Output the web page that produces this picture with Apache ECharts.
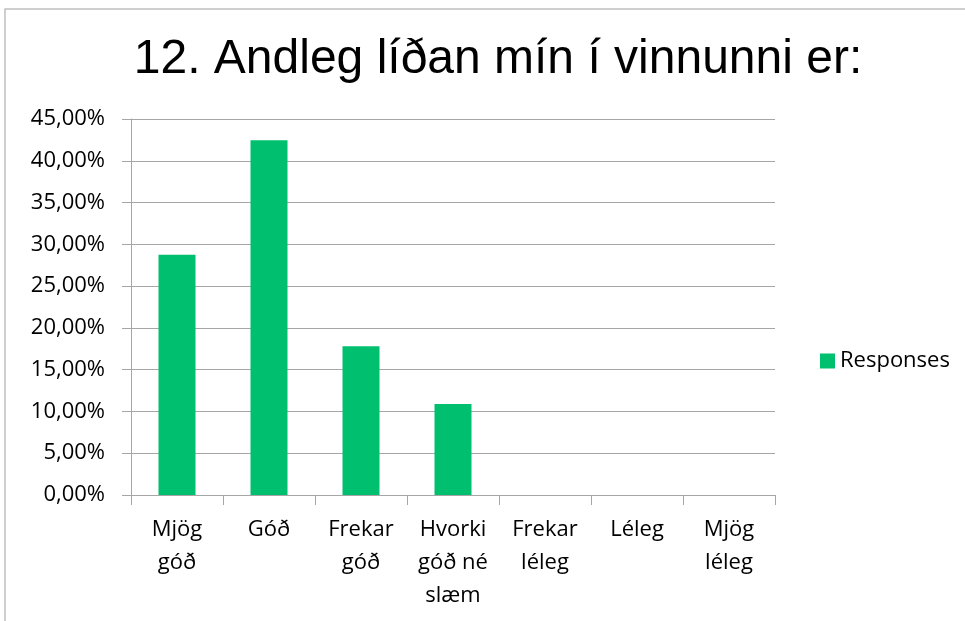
<!DOCTYPE html>
<html>
<head>
<meta charset="utf-8">
<script src="https://cdn.jsdelivr.net/npm/echarts@6/dist/echarts.min.js"></script>
<style>
  html, body { margin: 0; padding: 0; background: #fff; }
  #main { width: 965px; height: 621px; }
</style>
</head>
<body>
<div id="main"></div>
<script>
var categories = ['Mjög\ngóð', 'Góð', 'Frekar\ngóð', 'Hvorki\ngóð né\nslæm', 'Frekar\nléleg', 'Léleg', 'Mjög\nléleg'];
var responses = [28.75, 42.45, 17.8, 10.9, 0, 0, 0];
var seriesName = 'Responses';
var titleText = '12. Andleg líðan mín í vinnunni er:';

var chart = echarts.init(document.getElementById('main'));
var labelFont = 'Open Sans, Noto Sans, sans-serif';
var option = {
  backgroundColor: '#fff',
  animation: false,
  title: {
    text: titleText,
    left: 493,
    top: 31,
    textAlign: 'center',
    textStyle: {
      fontFamily: 'Liberation Sans, Arial',
      fontWeight: 'normal',
      fontSize: 48,
      color: '#000'
    }
  },
  graphic: [{
    type: 'rect',
    shape: { x: 5, y: 9, width: 1100, height: 800 },
    style: { fill: 'none', stroke: '#bfbfbf', lineWidth: 1.5 },
    silent: true
  }],
  legend: {
    data: [seriesName],
    left: 815,
    top: 345,
    itemWidth: 15,
    itemHeight: 15,
    itemGap: 6,
    icon: 'rect',
    textStyle: { fontFamily: labelFont, fontSize: 22, color: '#000' }
  },
  grid: { left: 131, right: 190, top: 119, bottom: 126 },
  xAxis: {
    type: 'category',
    data: categories,
    axisLine: { lineStyle: { color: '#a6a6a6', width: 1 } },
    axisTick: { show: true, length: 10, lineStyle: { color: '#a6a6a6' } },
    axisLabel: {
      interval: 0,
      margin: 18,
      lineHeight: 33,
      fontFamily: labelFont,
      fontSize: 22,
      color: '#000'
    }
  },
  yAxis: {
    type: 'value',
    min: 0,
    max: 45,
    interval: 5,
    axisLine: { show: true, lineStyle: { color: '#a6a6a6', width: 1 } },
    axisTick: { show: true, length: 9, lineStyle: { color: '#a6a6a6' } },
    splitLine: { lineStyle: { color: '#a6a6a6', width: 1 } },
    axisLabel: {
      margin: 26,
      fontFamily: labelFont,
      fontSize: 22,
      color: '#000',
      formatter: function (v) { return v.toFixed(2).replace('.', ',') + '%'; }
    }
  },
  series: [{
    name: seriesName,
    type: 'bar',
    data: responses,
    barWidth: 37,
    itemStyle: { color: '#00BF6F' }
  }]
};
chart.setOption(option);
</script>
</body>
</html>
